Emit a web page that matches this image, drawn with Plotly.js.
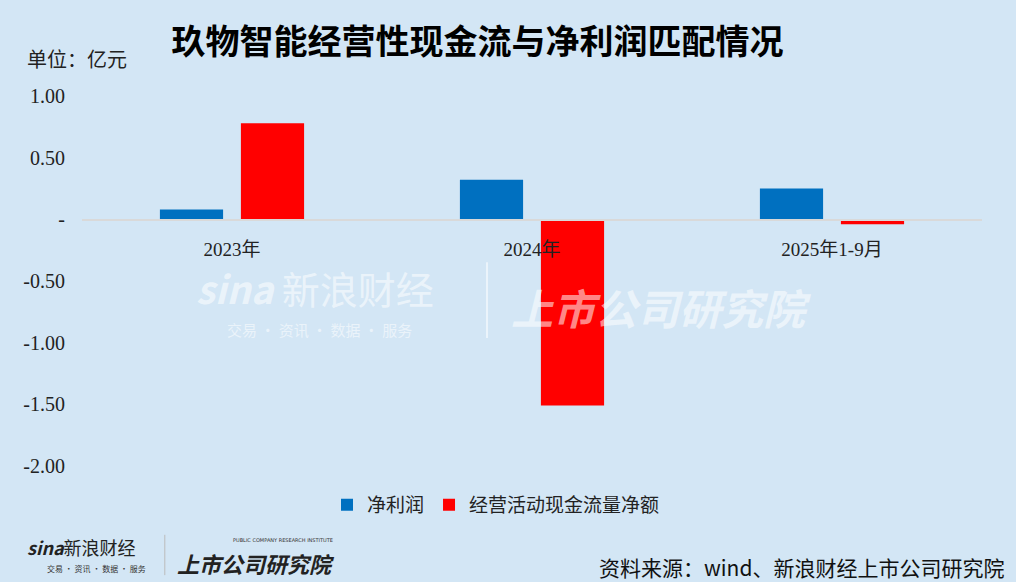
<!DOCTYPE html>
<html><head><meta charset="utf-8">
<script src="https://cdn.plot.ly/plotly-3.0.1.min.js"></script>
<style>html,body{margin:0;padding:0;background:#d3e6f5;}#c{width:1016px;height:582px;}</style>
</head><body><div id="c"></div>
<script>
const categories = ['2023年', '2024年', '2025年1-9月'];
const netProfit = [0.08, 0.32, 0.25];
const opCashFlow = [0.78, -1.51, -0.04];
const tickVals = [1, 0.5, 0, -0.5, -1, -1.5, -2];
const tickText = ['1.00', '0.50', '-', '-0.50', '-1.00', '-1.50', '-2.00'];
const seriesNames = ['净利润', '经营活动现金流量净额'];

const serif = "'Liberation Serif','Noto Sans CJK SC',serif";
const cjk = "'Noto Sans CJK SC','Noto Sans',sans-serif";
const wm = 'rgba(255,255,255,0.55)';

const data = [
  {type:'bar', x:categories, y:netProfit, name:seriesNames[0], marker:{color:'#0070c0'}, hoverinfo:'skip'},
  {type:'bar', x:categories, y:opCashFlow, name:seriesNames[1], marker:{color:'#ff0000'}, hoverinfo:'skip'}
];

const layout = {
  width:1016, height:582,
  paper_bgcolor:'#d3e6f5', plot_bgcolor:'#d3e6f5',
  margin:{l:82, r:34, t:96, b:116},
  barmode:'group', bargap:0.46, bargroupgap:0.22,
  title:{text:'玖物智能经营性现金流与净利润匹配情况', x:0.47, xanchor:'center', y:0.928, yanchor:'middle',
         font:{family:cjk, size:34, color:'#000', weight:'bold'}},
  xaxis:{anchor:'free', position:2/3, showline:true, linecolor:'#d9d9d9', linewidth:1.5,
         showgrid:false, ticks:'', ticklabelstandoff:12,
         tickfont:{family:serif, size:19, color:'#222'}, fixedrange:true},
  yaxis:{range:[-2,1], tickvals:tickVals, ticktext:tickText, showgrid:false, zeroline:false,
         ticks:'outside', ticklen:12, tickcolor:'rgba(0,0,0,0)',
         tickfont:{family:serif, size:20, color:'#222'}, fixedrange:true},
  legend:{orientation:'h', x:0.46, xanchor:'center', y:-0.105, yanchor:'middle',
          font:{family:cjk, size:19, color:'#222'}, itemwidth:30, traceorder:'normal'},
  annotations:[
    {text:'单位：亿元', xref:'paper', yref:'paper', x:-0.063, y:1.098, xanchor:'left', yanchor:'middle', showarrow:false,
     font:{family:serif, size:20, color:'#222'}},
    {text:'资料来源：wind、新浪财经上市公司研究院', xref:'paper', yref:'paper', x:1.027, y:-0.273, xanchor:'right', yanchor:'middle', showarrow:false,
     font:{family:cjk, size:21, color:'#111'}},
    // central watermark
    {text:'<b><i>sina</i></b> 新浪财经', xref:'paper', yref:'paper', x:0.124, y:0.482, xanchor:'left', yanchor:'middle', showarrow:false,
     font:{family:cjk, size:38, color:wm}},
    {text:'交易 · 资讯 · 数据 · 服务', xref:'paper', yref:'paper', x:0.159, y:0.37, xanchor:'left', yanchor:'middle', showarrow:false,
     font:{family:cjk, size:15, color:wm}},
    {text:'<b><i>上市公司研究院</i></b>', xref:'paper', yref:'paper', x:0.474, y:0.432, xanchor:'left', yanchor:'middle', showarrow:false,
     font:{family:cjk, size:42, color:wm}},
    // bottom logos
    {text:'<b><i>sina</i></b>新浪财经', xref:'paper', yref:'paper', x:-0.063, y:-0.218, xanchor:'left', yanchor:'middle', showarrow:false,
     font:{family:cjk, size:18, color:'#222'}},
    {text:'交易 · 资讯 · 数据 · 服务', xref:'paper', yref:'paper', x:-0.041, y:-0.278, xanchor:'left', yanchor:'middle', showarrow:false,
     font:{family:cjk, size:8, color:'#333'}},
    {text:'PUBLIC COMPANY RESEARCH INSTITUTE', xref:'paper', yref:'paper', x:0.166, y:-0.2, xanchor:'left', yanchor:'middle', showarrow:false,
     font:{family:"'DejaVu Sans',sans-serif", size:5, color:'#333'}},
    {text:'<b><i>上市公司研究院</i></b>', xref:'paper', yref:'paper', x:0.103, y:-0.262, xanchor:'left', yanchor:'middle', showarrow:false,
     font:{family:cjk, size:22, color:'#222'}}
  ],
  shapes:[
    {type:'line', xref:'paper', yref:'paper', x0:0.45, x1:0.45, y0:0.346, y1:0.551, line:{color:wm, width:2}},
    {type:'line', xref:'paper', yref:'paper', x0:0.092, x1:0.092, y0:-0.186, y1:-0.295, line:{color:'#bbb', width:1}}
  ]
};

Plotly.newPlot('c', data, layout, {staticPlot:true, displayModeBar:false});
</script>
</body></html>
